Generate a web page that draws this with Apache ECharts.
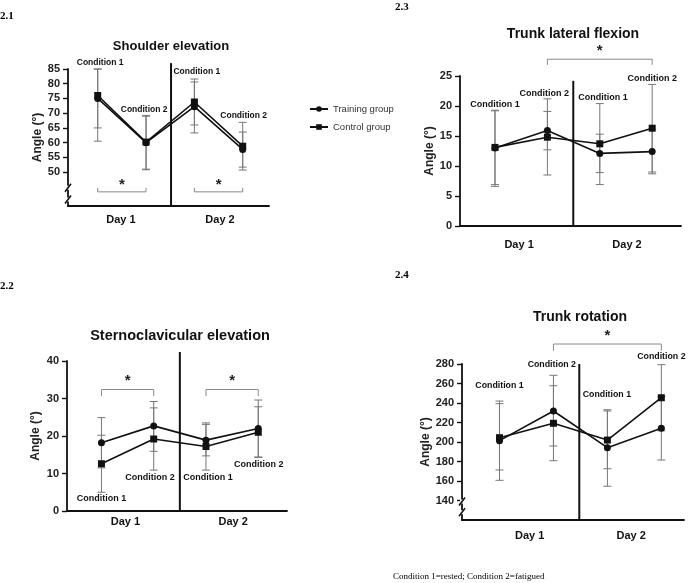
<!DOCTYPE html>
<html><head><meta charset="utf-8">
<script src="https://cdn.jsdelivr.net/npm/echarts@6/dist/echarts.min.js"></script>
<style>html,body{margin:0;padding:0;background:#fff}#c{width:700px;height:583px}</style>
</head><body><div id="c"></div><script>
// ---------- data ----------
const conditions = ['Condition 1', 'Condition 2', 'Condition 1', 'Condition 2'];
const conditionX = [0, 1, 2, 3];
const days = ['Day 1', 'Day 2'];
const groups = ['Training group', 'Control group'];
const axisName = 'Angle (°)';
const footnote = 'Condition 1=rested; Condition 2=fatigued';

// 2.1 Shoulder elevation
const shoulderTitle = 'Shoulder elevation';
const shoulderTicks = [50, 55, 60, 65, 70, 75, 80, 85];
const shoulderTraining = [75, 60, 72.2, 57.7];
const shoulderTrainingLow = [65, 51, 63.3, 51.7];
const shoulderTrainingHigh = [85, 69, 80.6, 63.6];
const shoulderControl = [76, 60.2, 73.8, 58.8];
const shoulderControlLow = [60.5, 50.8, 66, 50.7];
const shoulderControlHigh = [85, 69.2, 81.6, 66.9];

// 2.2 Sternoclavicular elevation
const sternoTitle = 'Sternoclavicular elevation';
const sternoTicks = [0, 10, 20, 30, 40];
const sternoTraining = [18.2, 22.7, 18.9, 22.0];
const sternoTrainingLow = [11.5, 15.9, 14.7, 14.4];
const sternoTrainingHigh = [24.9, 29.2, 23.1, 29.6];
const sternoControl = [12.6, 19.2, 17.2, 21.0];
const sternoControlLow = [5.0, 10.9, 10.9, 14.3];
const sternoControlHigh = [20.2, 27.5, 23.5, 27.8];

// 2.3 Trunk lateral flexion
const lateralTitle = 'Trunk lateral flexion';
const lateralTicks = [0, 5, 10, 15, 20, 25];
const lateralTraining = [13.0, 15.9, 12.1, 12.4];
const lateralTrainingLow = [6.6, 12.7, 8.9, 8.7];
const lateralTrainingHigh = [19.2, 19.1, 15.3, 16.1];
const lateralControl = [13.1, 14.8, 13.7, 16.3];
const lateralControlLow = [6.9, 8.5, 6.9, 9.0];
const lateralControlHigh = [19.3, 21.2, 20.4, 23.6];

// 2.4 Trunk rotation
const rotationTitle = 'Trunk rotation';
const rotationTicks = [140, 160, 180, 200, 220, 240, 260, 280];
const rotationTraining = [201.4, 231.8, 194.2, 214.1];
const rotationTrainingLow = [160.7, 195.9, 154.6, 181.5];
const rotationTrainingHigh = [242, 268.4, 233.1, 246.7];
const rotationControl = [204.4, 219.2, 202, 245.4];
const rotationControlLow = [171.3, 180.8, 172.6, 211.5];
const rotationControlHigh = [239.3, 257.7, 231.8, 279.3];

// ---------- layout / style ----------
const FONT = '"Liberation Sans", Arial, sans-serif';
const INK = '#111';
const BAR = '#777';
const panels = [
  { tag: '2.1', tagX: 0, tagY: 11, title: shoulderTitle, titleX: 171, titleY: 39.5, titleSize: 13,
    grid: { left: 68, top: 69, width: 201, height: 137 },
    xMin: -0.615, xMax: 3.544, yMin: 38.5, yMax: 85, ticks: shoulderTicks,
    dayPos: [0.48, 2.53], dayMargin: 8, nameGap: 21,
    sepX: 1.517, sepTop: 87,
    brackets: [{ x1: 0, x2: 1, y: 43.3, tick: -4, star: -10 }, { x1: 2, x2: 3, y: 43.3, tick: -4, star: -10 }],
    breaks: [44.7, 40.7],
    labelPos: [[0.05, 87.1], [0.96, 71.1], [2.05, 84.2], [3.02, 69.0]], labelSize: 8.5,
    tr: [shoulderTraining, shoulderTrainingLow, shoulderTrainingHigh],
    co: [shoulderControl, shoulderControlLow, shoulderControlHigh] },
  { tag: '2.3', tagX: 395, tagY: 2, title: lateralTitle, titleX: 573, titleY: 27.5, titleSize: 14,
    grid: { left: 460, top: 76, width: 221, height: 150 },
    xMin: -0.668, xMax: 3.55, yMin: 0, yMax: 25, ticks: lateralTicks,
    dayPos: [0.46, 2.52], dayMargin: 13, nameGap: 23.5,
    sepX: 1.494, sepTop: 24.2,
    brackets: [{ x1: 1, x2: 3, y: 27.8, tick: 5.7, star: -11.6 }],
    breaks: [],
    labelPos: [[0, 20.3], [0.94, 22.1], [2.06, 21.4], [3.0, 24.5]], labelSize: 9,
    tr: [lateralTraining, lateralTrainingLow, lateralTrainingHigh],
    co: [lateralControl, lateralControlLow, lateralControlHigh] },
  { tag: '2.2', tagX: 0, tagY: 281, title: sternoTitle, titleX: 180, titleY: 328.5, titleSize: 14.5,
    grid: { left: 67, top: 361, width: 220, height: 150 },
    xMin: -0.659, xMax: 3.55, yMin: 0, yMax: 40, ticks: sternoTicks,
    dayPos: [0.46, 2.52], dayMargin: 5.5, nameGap: 25.5,
    sepX: 1.5, sepTop: 42.4,
    brackets: [{ x1: 0, x2: 1, y: 32.4, tick: 6.7, star: -12 }, { x1: 2, x2: 3, y: 32.4, tick: 6.7, star: -12 }],
    breaks: [],
    labelPos: [[0, 3.3], [0.93, 8.9], [2.04, 8.9], [3.01, 12.3]], labelSize: 9,
    tr: [sternoTraining, sternoTrainingLow, sternoTrainingHigh],
    co: [sternoControl, sternoControlLow, sternoControlHigh] },
  { tag: '2.4', tagX: 395, tagY: 270, title: rotationTitle, titleX: 580, titleY: 310, titleSize: 14,
    grid: { left: 462, top: 364, width: 222, height: 156 },
    xMin: -0.695, xMax: 3.42, yMin: 120, yMax: 280, ticks: rotationTicks,
    dayPos: [0.56, 2.44], dayMargin: 10, nameGap: 30,
    sepX: 1.479, sepTop: 280,
    brackets: [{ x1: 1, x2: 3, y: 300.5, tick: 6.7, star: -11.3 }],
    breaks: [139, 128],
    labelPos: [[0, 257.7], [0.97, 279], [1.99, 248.5], [3.0, 287.9]], labelSize: 8.8,
    tr: [rotationTraining, rotationTrainingLow, rotationTrainingHigh],
    co: [rotationControl, rotationControlLow, rotationControlHigh] }
];

function errorBarRender(params, api) {
  const x = api.value(0);
  const lo = api.coord([x, api.value(1)]);
  const hi = api.coord([x, api.value(2)]);
  const hw = 4;
  const st = { stroke: BAR, lineWidth: 1 };
  return { type: 'group', children: [
    { type: 'line', shape: { x1: lo[0], y1: lo[1], x2: hi[0], y2: hi[1] }, style: st },
    { type: 'line', shape: { x1: lo[0] - hw, y1: lo[1], x2: lo[0] + hw, y2: lo[1] }, style: st },
    { type: 'line', shape: { x1: hi[0] - hw, y1: hi[1], x2: hi[0] + hw, y2: hi[1] }, style: st }
  ] };
}

function annotItems(p) {
  const items = [];
  p.labelPos.forEach((pos, k) => items.push({ kind: 'label', x: pos[0], y: pos[1], text: conditions[k] }));
  items.push({ kind: 'sep', x: p.sepX, y: p.sepTop });
  p.brackets.forEach(b => items.push(Object.assign({ kind: 'bracket' }, b, { x: b.x1 })));
  p.breaks.forEach(v => items.push({ kind: 'break', x: p.xMin, y: v }));
  return items;
}

function annotRender(p, items) {
  return function (params, api) {
    const it = items[params.dataIndex];
    if (it.kind === 'label') {
      const c = api.coord([it.x, it.y]);
      return { type: 'text', x: c[0], y: c[1], style: { text: it.text, fill: INK, font: 'bold ' + p.labelSize + 'px ' + FONT, align: 'center', verticalAlign: 'middle' } };
    }
    if (it.kind === 'sep') {
      const a = api.coord([it.x, p.yMin]);
      const b = api.coord([it.x, it.y]);
      return { type: 'line', shape: { x1: a[0], y1: a[1], x2: b[0], y2: b[1] }, style: { stroke: INK, lineWidth: 2 } };
    }
    if (it.kind === 'bracket') {
      const a = api.coord([it.x1, it.y]);
      const b = api.coord([it.x2, it.y]);
      const st = { stroke: '#8a8a8a', lineWidth: 1, fill: null };
      return { type: 'group', children: [
        { type: 'polyline', shape: { points: [[a[0], a[1] + it.tick], [a[0], a[1]], [b[0], b[1]], [b[0], b[1] + it.tick]] }, style: st },
        { type: 'text', x: (a[0] + b[0]) / 2, y: a[1] + it.star + 3, style: { text: '*', fill: '#222', font: 'bold 15px ' + FONT, align: 'center', verticalAlign: 'middle' } }
      ] };
    }
    if (it.kind === 'break') {
      const c = api.coord([it.x, it.y]);
      return { type: 'group', children: [
        { type: 'rect', shape: { x: c[0] - 2, y: c[1] - 2, width: 4, height: 4 }, style: { fill: '#fff' } },
        { type: 'line', shape: { x1: c[0] - 3, y1: c[1] + 4, x2: c[0] + 3, y2: c[1] - 4 }, style: { stroke: INK, lineWidth: 1.6 } }
      ] };
    }
    return null;
  };
}

const series = [];
panels.forEach((p, i) => {
  const mk = (arr) => conditionX.map((x, k) => [x, arr[1][k], arr[2][k]]);
  series.push({ type: 'custom', xAxisIndex: i, yAxisIndex: i, z: 1, silent: true, renderItem: errorBarRender, encode: { x: 0, y: [1, 2] }, data: mk(p.tr) });
  series.push({ type: 'custom', xAxisIndex: i, yAxisIndex: i, z: 1, silent: true, renderItem: errorBarRender, encode: { x: 0, y: [1, 2] }, data: mk(p.co) });
  [[p.tr, 'circle', groups[0]], [p.co, 'rect', groups[1]]].forEach(([arr, sym, name]) => {
    series.push({ type: 'line', name: name, xAxisIndex: i, yAxisIndex: i, z: 3, symbol: sym, symbolSize: 7,
      lineStyle: { color: INK, width: 1.6 }, itemStyle: { color: INK }, silent: true,
      data: conditionX.map((x, k) => [x, arr[0][k]]) });
  });
  const items = annotItems(p);
  series.push({ type: 'custom', xAxisIndex: i, yAxisIndex: i, z: 4, silent: true, renderItem: annotRender(p, items),
    encode: { x: 0, y: 1 }, data: items.map(it => [it.x, it.y]) });
});

const option = {
  animation: false,
  backgroundColor: '#fff',
  title: panels.map(p => ({ text: p.title, left: p.titleX, top: p.titleY, textAlign: 'center', padding: 0,
    textStyle: { fontFamily: FONT, fontSize: p.titleSize, fontWeight: 'bold', color: INK } })),
  legend: { data: groups, orient: 'vertical', left: 304, top: 99, itemWidth: 18, itemHeight: 7, itemGap: 8,
    textStyle: { fontSize: 9.5, color: '#333', fontFamily: FONT } },
  grid: panels.map(p => Object.assign({ containLabel: false }, p.grid)),
  xAxis: panels.map((p, i) => ({ type: 'value', gridIndex: i, min: p.xMin, max: p.xMax,
    axisLine: { show: true, onZero: false, lineStyle: { color: INK, width: 1.8 } },
    axisTick: { show: false }, splitLine: { show: false },
    axisLabel: { customValues: p.dayPos, formatter: v => (v < 1.5 ? days[0] : days[1]), margin: p.dayMargin,
      fontSize: 11, fontWeight: 'bold', color: INK, fontFamily: FONT } })),
  yAxis: panels.map((p, i) => ({ type: 'value', gridIndex: i, min: p.yMin, max: p.yMax,
    name: axisName, nameLocation: 'middle', nameGap: p.nameGap,
    nameTextStyle: { fontSize: 12, fontWeight: 'bold', color: '#222', fontFamily: FONT },
    axisLine: { show: true, onZero: false, lineStyle: { color: INK, width: 1.8 } },
    axisTick: { show: true, length: 5, customValues: p.ticks, lineStyle: { color: INK, width: 1.4 } },
    axisLabel: { customValues: p.ticks, margin: 8, fontSize: 11, fontWeight: 'bold', color: '#222', fontFamily: FONT },
    splitLine: { show: false } })),
  graphic: panels.map(p => ({ type: 'text', left: p.tagX, top: p.tagY,
    style: { text: p.tag, font: 'bold 11px "Liberation Serif", serif', fill: '#000' } }))
    .concat([{ type: 'text', left: 393, top: 572, style: { text: footnote, font: '9px "Liberation Serif", serif', fill: '#000' } }]),
  series: series
};
echarts.init(document.getElementById('c'), null, { renderer: 'canvas' }).setOption(option);
</script></body></html>
